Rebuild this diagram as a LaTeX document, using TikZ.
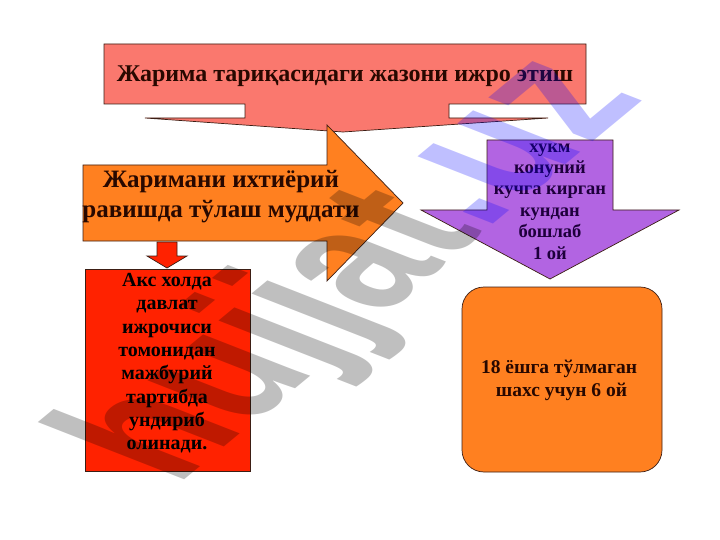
\documentclass[tikz,border=0pt]{standalone}
\usepackage{fontspec}
\setmainfont{Liberation Serif}
\newfontfamily\wmfont{Liberation Sans}
\definecolor{salmon}{RGB}{250,120,110}
\definecolor{orng}{RGB}{255,128,32}
\definecolor{redbox}{RGB}{255,34,0}
\definecolor{purp}{RGB}{178,100,226}
\definecolor{edge}{RGB}{60,30,20}
\definecolor{txtdark}{RGB}{40,8,0}
\definecolor{txtpurp}{RGB}{30,0,60}
\tikzset{
  shapebox/.style={draw=edge, line width=0.7pt, line join=miter},
  lbl/.style={inner sep=0pt, font=\bfseries, text=txtdark, align=center},
}
\begin{document}
\begin{tikzpicture}[x=1pt,y=-1pt]
\useasboundingbox (0,0) rectangle (720,540);
\fill[white] (0,0) rectangle (720,540);
% top callout
\draw[shapebox, fill=salmon] (104,44) -- (586,44) -- (586,104) -- (449,104) -- (449,118) -- (548,118)
  -- (343,132) -- (145,118) -- (245,118) -- (245,104) -- (104,104) -- cycle;
\node[lbl, anchor=base, font=\fontsize{24}{28}\selectfont\bfseries] (title) at (345,82)
  {Жарима тариқасидаги жазони ижро этиш};
% orange right arrow
\draw[shapebox, fill=orng] (83,165) -- (327,165) -- (327,125) -- (403,203) -- (327,281) -- (327,241) -- (83,241) -- cycle;
\node[lbl, anchor=north, font=\fontsize{25}{30}\selectfont\bfseries] (term) at (221,166)
  {\strut Жаримани ихтиёрий\\\strut равишда тўлаш муддати};
% small red arrow
\draw[shapebox, fill=redbox] (157,242) -- (177,242) -- (177,256) -- (187,256) -- (167,268) -- (147,256) -- (157,256) -- cycle;
% red box
\draw[shapebox, fill=redbox] (85,269) rectangle (250,471);
\node[lbl, anchor=north, text=black, font=\fontsize{20}{23.3}\selectfont\bfseries] (otherwise) at (167,270)
  {\strut Акс холда\\\strut давлат\\\strut ижрочиси\\\strut томонидан\\\strut мажбурий\\\strut тартибда\\\strut ундириб\\\strut олинади.};
% purple down arrow
\draw[shapebox, fill=purp] (487,140) -- (613,140) -- (613,210) -- (679,210) -- (550,279) -- (421,210) -- (487,210) -- cycle;
\node[lbl, anchor=north, text=txtpurp, font=\fontsize{18.5}{21.4}\selectfont\bfseries] (month) at (550,137)
  {\strut хукм\\\strut конуний\\\strut кучга кирган\\\strut кундан\\\strut бошлаб\\\strut 1 ой};
% rounded box
\draw[shapebox, fill=orng, rounded corners=22pt] (462,287) rectangle (662,472);
\node[lbl, anchor=north, font=\fontsize{19.5}{23}\selectfont\bfseries] (minor) at (559,357)
  {\strut 18 ёшга тўлмаган\\\strut\ шахс учун 6 ой};
% watermark
\begin{scope}[shift={(176,487)}, cm={1.16,0.96,-2.02,0.79,(0,0)}]
  \node[transform shape, anchor=base west, inner sep=0pt, text opacity=0.25,
        font=\wmfont\bfseries\fontsize{100}{100}\selectfont] (wm) at (0,0)
    {\textcolor{black}{hujjat}\textcolor{blue}{.uz}};
\end{scope}
\end{tikzpicture}
\end{document}
